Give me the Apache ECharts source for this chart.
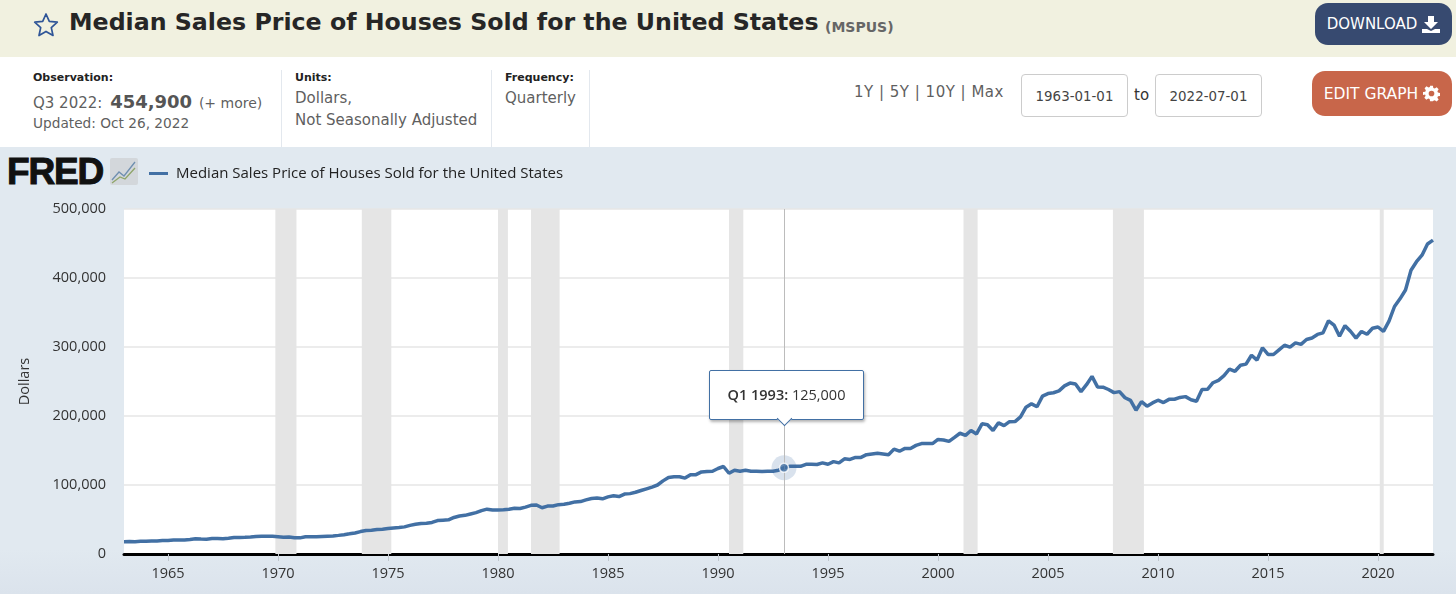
<!DOCTYPE html>
<html>
<head>
<meta charset="utf-8">
<title>MSPUS</title>
<script src="https://cdn.jsdelivr.net/npm/echarts@6/dist/echarts.min.js"></script>
<style>
  html, body { margin: 0; padding: 0; background: #fff; }
  #page { position: relative; width: 1456px; height: 594px; overflow: hidden; font-family: "DejaVu Sans", sans-serif; color: #555; }
  #page > * { position: absolute; }
  .sep { top: 70px; width: 1px; height: 77px; background: #e3e8ee; }
  .head { font-size: 11px; font-weight: bold; color: #222; }
  .info { font-size: 15px; color: #5f5f5f; white-space: nowrap; }
  .btn { color: #fff; border-radius: 13px; font-size: 15px; display: flex; align-items: center; justify-content: center; gap: 5px; box-sizing: border-box; }
  .date { top: 74px; width: 107px; height: 43px; box-sizing: border-box; border: 1px solid #ccc; border-radius: 4px; background: #fff; font-size: 13.4px; color: #444; text-align: center; line-height: 44px; }
  #chart { left: 0; top: 147px; width: 1456px; height: 447px; }
</style>
</head>
<body>
<div id="page">
  <div style="left:0;top:0;width:1456px;height:57px;background:#f1f1e0"></div>
  <div style="left:0;top:147px;width:1456px;height:447px;background:linear-gradient(#e1e9f0 90%,#dbe3ec)"></div>

  <svg style="left:33px;top:12px" width="26" height="26" viewBox="0 0 26 26"><path d="M13 2l3.3 7.4 8 .8-6 5.4 1.7 7.9-7-4.1-7 4.1 1.700-7.900-6-5.400 8-.8z" fill="none" stroke="#2f5597" stroke-width="1.7" stroke-linejoin="round"/></svg>
  <div style="left:69px;top:8px;font-size:23.7px;font-weight:bold;color:#262626;white-space:nowrap">Median Sales Price of Houses Sold for the United States</div>
  <div style="left:825px;top:19px;font-size:14px;font-weight:bold;color:#666">(MSPUS)</div>
  <div class="btn" style="left:1315px;top:3px;width:137px;height:42px;background:#374a70">DOWNLOAD
    <svg width="18" height="18" viewBox="0 0 18 18"><path d="M6 1h6v6h4l-7 7-7-7h4z M0 14h5l4 2 4-2h5v4H0z" fill="#fff"/></svg>
  </div>

  <div class="head" style="left:33px;top:71px">Observation:</div>
  <div class="info" style="left:33px;top:91px">Q3 2022: <b style="font-size:18px;color:#555;margin-left:3px">454,900</b> <span style="font-size:14px;margin-left:2px">(+ more)</span></div>
  <div class="info" style="left:33px;top:115px;font-size:13.7px">Updated: Oct 26, 2022</div>
  <div class="sep" style="left:281px"></div>
  <div class="head" style="left:295px;top:71px">Units:</div>
  <div class="info" style="left:295px;top:89px">Dollars,</div>
  <div class="info" style="left:295px;top:111px">Not Seasonally Adjusted</div>
  <div class="sep" style="left:491px"></div>
  <div class="head" style="left:505px;top:71px">Frequency:</div>
  <div class="info" style="left:505px;top:89px">Quarterly</div>
  <div class="sep" style="left:589px"></div>

  <div class="info" style="left:854px;top:83px;letter-spacing:.5px">1Y | 5Y | 10Y | Max</div>
  <div class="date" style="left:1021px">1963-01-01</div>
  <div class="info" style="left:1134px;top:86px;color:#333">to</div>
  <div class="date" style="left:1155px">2022-07-01</div>
  <div class="btn" style="left:1312px;top:71px;width:140px;height:45px;background:#c8664a;font-size:15.500px">EDIT GRAPH
    <svg width="17" height="17" viewBox="0 0 24 24"><path d="M10 1h4l.6 3.2 2 .8L19.300 3.200l2.800 2.800-1.800 2.700.8 2 3.200.6v4l-3.200.6-.8 2 1.800 2.700-2.800 2.800-2.700-1.800-2 .8L14 23h-4l-.6-3.200-2-.8-2.700 1.800-2.800-2.800 1.800-2.700-.8-2L0 14v-4l3.200-.6.8-2L2.200 4.700 5 1.900l2.700 1.800 2-.8z M12 8a4 4 0 1 0 0 8a4 4 0 0 0 0-8z" fill="#fff" fill-rule="evenodd"/></svg>
  </div>

  <div style="left:7px;top:150px;font:bold 37px/44px 'Liberation Sans',sans-serif;letter-spacing:-1.2px;color:#111;-webkit-text-stroke:1px #111">FRED</div>
  <svg style="left:110px;top:158px" width="28" height="27" viewBox="0 0 28 27"><rect width="28" height="27" rx="2" fill="#d3d7db"/><path d="M2 22l7-8 5 4 11-14" fill="none" stroke="#6f8fb0" stroke-width="1.300"/><path d="M2 25l8-6 5 2 10-11" fill="none" stroke="#8fa56a" stroke-width="1.300"/></svg>

  <div id="chart"></div>
</div>

<script>
const seriesName = 'Median Sales Price of Houses Sold for the United States'
const startYear = 1963

// quarterly, one row per year
const prices = [
  17800, 18000, 17900, 18500,
  18500, 18900, 18900, 19400,
  19400, 20200, 20200, 20300,
  21000, 22100, 21700, 21500,
  22300, 22400, 22000, 22800,
  23900, 24000, 24200, 24700,
  25300, 25600, 25700, 25600,
  25000, 24300, 24600, 23500,
  23400, 25000, 25100, 24900,
  25300, 25700, 26100, 27000,
  28000, 29200, 30500, 32500,
  34000, 34500, 35500, 36000,
  37000, 37800, 38500, 39300,
  41500, 43000, 44200, 44500,
  45700, 48500, 49000, 49500,
  53000, 55000, 56000, 58000,
  60000, 62900, 65000, 63900,
  63700, 64000, 64900, 66400,
  66000, 68000, 70500, 71000,
  67000, 69500, 69500, 71500,
  72000, 73500, 75500, 76000,
  78500, 80500, 81000, 80000,
  82800, 84300, 83200, 86800,
  87500, 89500, 92000, 94500,
  97000, 100000, 106000, 111000,
  112000, 112000, 110000, 115000,
  115000, 119000, 119500, 120000,
  123900, 126800, 117000, 121500,
  120000, 121500, 120000, 120000,
  119500, 120000, 120000, 121500,
  125000, 127000, 127000, 127000,
  130000, 130000, 129700, 132000,
  130000, 133900, 132000, 138000,
  137000, 139900, 140000, 144000,
  145000, 146000, 145000, 144000,
  152000, 149000, 153000, 153000,
  157400, 160000, 160000, 160000,
  166000, 165300, 163200, 169000,
  175000, 172000, 179000, 174000,
  188700, 187200, 178900, 190100,
  186000, 191800, 191900, 198800,
  212700, 217600, 213500, 228800,
  232500, 233700, 236400, 243600,
  247700, 246300, 235300, 245400,
  257400, 242200, 241800, 238400,
  233900, 235300, 226500, 222600,
  208400, 220900, 214300, 219000,
  222900, 219500, 224100, 224300,
  226900, 228100, 223500, 221400,
  238400, 238700, 248200, 251700,
  258400, 268100, 264800, 273600,
  275200, 288000, 281000, 298900,
  289200, 289100, 295800, 302500,
  299800, 306000, 303800, 310900,
  313100, 318200, 320500, 337900,
  331800, 315600, 330900, 322800,
  313000, 322500, 318400, 327100,
  329000, 322600, 337500, 358700,
  369800, 382600, 411200, 423600,
  433100, 449300, 454900
]

// start and end as decimal years
const recessions = [
  [1969.88, 1970.84],
  [1973.81, 1975.15],
  [1980.0, 1980.45],
  [1981.5, 1982.8],
  [1990.5, 1991.15],
  [2001.16, 2001.8],
  [2007.95, 2009.36],
  [2020.08, 2020.26]
]

const yearTicks = [1965, 1970, 1975, 1980, 1985, 1990, 1995, 2000, 2005, 2010, 2015, 2020]
const hoverIndex = 120 // Q1 1993

const fontName = '"Open Sans", sans-serif'
const lineColor = '#4270a4'

function quarterYear(i) {
  return startYear + i / 4
}
function quarterLabel(i) {
  return 'Q' + (i % 4 + 1) + ' ' + (startYear + Math.floor(i / 4))
}

const points = prices.map((p, i) => [quarterYear(i), p])

const myChart = echarts.init(document.getElementById('chart'))

myChart.setOption({
  animation: false,
  textStyle: { fontFamily: fontName },
  legend: {
    left: 144,
    top: 14,
    data: [seriesName],
    icon: 'rect',
    itemWidth: 19,
    itemHeight: 3,
    textStyle: { fontFamily: fontName, fontSize: 15, color: '#222', padding: [0, 0, 0, 3] }
  },
  grid: { left: 124, right: 23, top: 62, bottom: 40, backgroundColor: '#fff', show: true, borderWidth: 0 },
  tooltip: {
    trigger: 'item',
    alwaysShowContent: true,
    backgroundColor: '#fff',
    borderColor: lineColor,
    borderWidth: 1,
    padding: 0,
    extraCssText: 'border-radius:2px;box-shadow:1px 2px 3px rgba(0,0,0,.3);overflow:visible;',
    position: function (point) {
      return [point[0] - 75, point[1] - 98]
    },
    formatter: function () {
      return '<div style="position:relative;width:153px;height:48px;text-align:center;font:14.5px/48px ' + "'Open Sans'" + ';color:#333">' +
        '<b style="font-weight:600">' + quarterLabel(hoverIndex) + ':</b> ' + prices[hoverIndex].toLocaleString('en-US') +
        '<div style="position:absolute;left:69px;top:42px;width:10px;height:10px;background:#fff;transform:rotate(45deg);border-right:1px solid ' + lineColor + ';border-bottom:1px solid ' + lineColor + '"></div></div>'
    }
  },
  xAxis: {
    type: 'value',
    min: quarterYear(0),
    max: quarterYear(prices.length - 1),
    axisLine: { show: true, onZero: false, lineStyle: { color: '#000', width: 3 } },
    axisTick: { show: true, customValues: yearTicks, length: 7, lineStyle: { color: '#c0c6cc', width: 1 } },
    splitLine: { show: false },
    axisLabel: {
      customValues: yearTicks,
      formatter: v => String(v),
      color: '#333',
      fontSize: 14.5,
      margin: 12
    }
  },
  yAxis: {
    type: 'value',
    min: 0,
    max: 500000,
    interval: 100000,
    name: 'Dollars',
    nameLocation: 'middle',
    nameGap: 92,
    nameRotate: 90,
    nameTextStyle: { color: '#333', fontSize: 14.5 },
    axisLine: { show: false },
    axisTick: { show: false },
    splitLine: { lineStyle: { color: '#e6e6e6', width: 1.5 } },
    axisLabel: {
      formatter: v => v.toLocaleString('en-US'),
      color: '#333',
      fontSize: 14.5,
      margin: 18
    }
  },
  series: [
    {
      name: seriesName,
      type: 'line',
      data: points,
      showSymbol: false,
      symbol: 'none',
      z: 3,
      lineStyle: { color: lineColor, width: 3.5 },
      itemStyle: { color: lineColor },
      markArea: {
        silent: true,
        itemStyle: { color: '#e5e5e5' },
        data: recessions.map(r => [{ xAxis: r[0] }, { xAxis: r[1] }])
      },
      markLine: {
        silent: true,
        symbol: 'none',
        label: { show: false },
        lineStyle: { color: '#bcbcbc', width: 1, type: 'solid' },
        data: [{ xAxis: quarterYear(hoverIndex) }]
      }
    },
    {
      name: 'halo',
      type: 'scatter',
      z: 4,
      symbolSize: 25,
      itemStyle: { color: 'rgba(66,112,164,0.25)' },
      data: [points[hoverIndex]]
    },
    {
      name: 'point',
      type: 'scatter',
      z: 5,
      symbolSize: 9,
      itemStyle: { color: lineColor, borderColor: '#fff', borderWidth: 1.5 },
      data: [points[hoverIndex]]
    }
  ]
})

myChart.dispatchAction({ type: 'showTip', seriesIndex: 2, dataIndex: 0 })
</script>
</body>
</html>
